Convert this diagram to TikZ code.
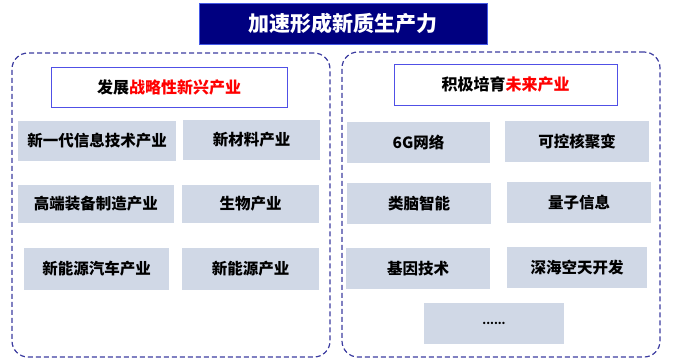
\documentclass[tikz,border=0pt]{standalone}
\usepackage{fontspec}
\setmainfont{Noto Sans CJK SC}
\usepackage{xcolor}
\usepackage{tikz}
\usetikzlibrary{positioning}
\definecolor{navyfill}{RGB}{0,0,128}
\definecolor{navyline}{RGB}{70,90,230}
\definecolor{frameline}{RGB}{60,60,160}
\definecolor{headline}{RGB}{80,80,230}
\definecolor{itemfill}{RGB}{208,216,230}
\tikzset{
    titlebox/.style = {rectangle, draw=navyline, fill=navyfill, text=white, line width=1pt, align=center, font=\bfseries\fontsize{21}{24}\selectfont},
    framebox/.style = {rectangle, rounded corners=16pt, draw=frameline, line width=1.2pt, dash pattern=on 5pt off 3pt},
    headbox/.style = {rectangle, draw=headline, fill=white, line width=1pt, align=center, font=\bfseries\fontsize{16}{19}\selectfont},
    itembox/.style = {rectangle, fill=itemfill, align=center, font=\bfseries\fontsize{15.5}{18}\selectfont},
}
\begin{document}
\begin{tikzpicture}[x=1pt,y=-1pt]
\useasboundingbox (0,0) rectangle (675,360);
\node[titlebox, minimum width=288pt, minimum height=41pt] at (343,23.5) (title) {加速形成新质生产力};
%
\node[framebox, minimum width=318pt, minimum height=304pt] at (171,205) (lframe) {};
\node[framebox, minimum width=318pt, minimum height=305pt] at (501,204.5) (rframe) {};
%
\node[headbox, minimum width=236pt, minimum height=40pt] at (169,87) (lhead) {发展\textcolor{red}{战略性新兴产业}};
\node[headbox, minimum width=223pt, minimum height=41pt] at (505.5,84.5) (rhead) {积极培育\textcolor{red}{未来产业}};
%
\node[itembox, minimum width=158pt, minimum height=40pt] at (97,141) (l1) {新一代信息技术产业};
\node[itembox, minimum width=137pt, minimum height=40pt] at (251.5,140) (l2) {新材料产业};
\node[itembox, minimum width=156pt, minimum height=38pt] at (96,204) (l3) {高端装备制造产业};
\node[itembox, minimum width=137pt, minimum height=38pt] at (250.5,204) (l4) {生物产业};
\node[itembox, minimum width=145pt, minimum height=42pt] at (96.5,269) (l5) {新能源汽车产业};
\node[itembox, minimum width=137pt, minimum height=42pt] at (250.5,269) (l6) {新能源产业};
%
\node[itembox, minimum width=143pt, minimum height=41pt] at (418.5,142.5) (r1) {6G网络};
\node[itembox, minimum width=144pt, minimum height=41pt] at (577,141.5) (r2) {可控核聚变};
\node[itembox, minimum width=144pt, minimum height=41pt] at (419,203.5) (r3) {类脑智能};
\node[itembox, minimum width=144pt, minimum height=41pt] at (579,202.5) (r4) {量子信息};
\node[itembox, minimum width=144pt, minimum height=41pt] at (418,268.5) (r5) {基因技术};
\node[itembox, minimum width=140pt, minimum height=41pt] at (577,267.5) (r6) {深海空天开发};
\node[itembox, minimum width=140pt, minimum height=41pt, font=\bfseries\fontsize{11}{13}\selectfont] at (494,323.5) (r7) {......};
\end{tikzpicture}
\end{document}
